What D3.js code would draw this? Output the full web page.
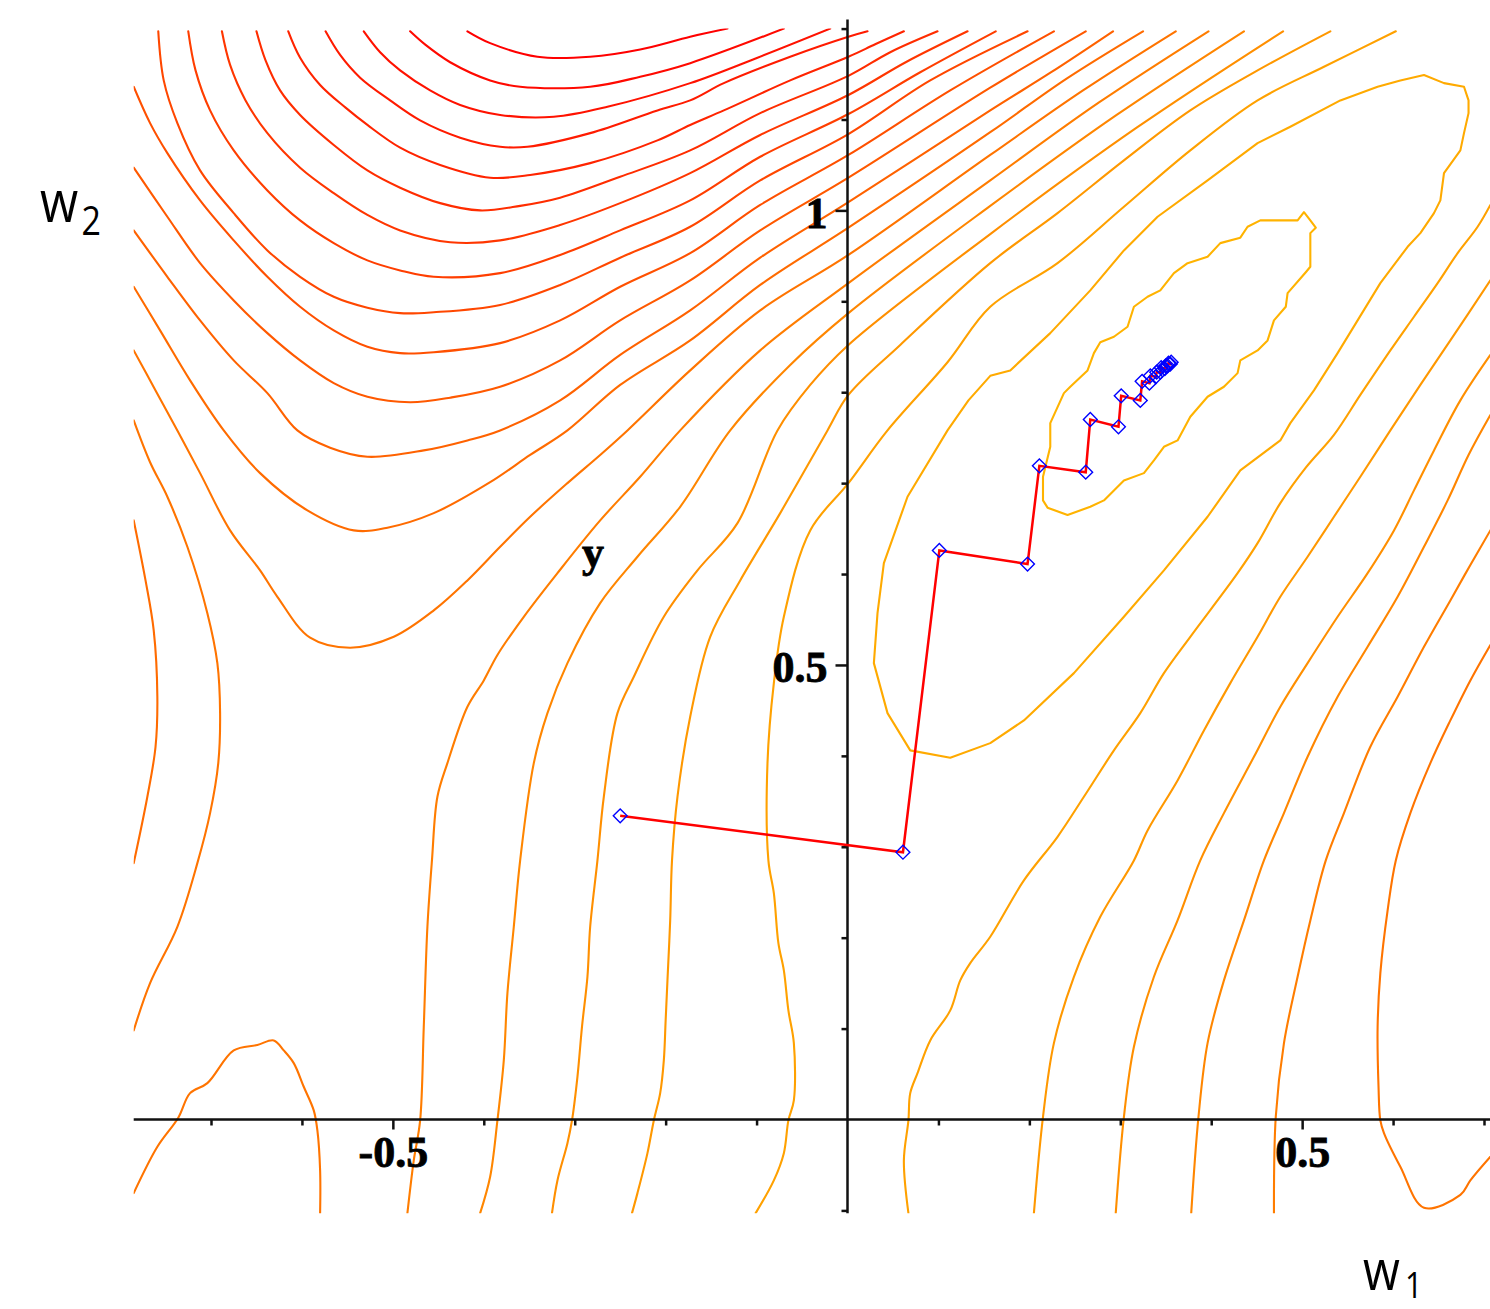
<!DOCTYPE html>
<html lang="en">
<head>
<meta charset="UTF-8">
<title>Error surface w1 / w2</title>
<style>
  body { margin: 0; background: #fff; }
  .contour { fill: none; stroke-width: 2.1px; stroke-linejoin: round; stroke-linecap: round; }
  .tick-label { font-family: "Liberation Serif", "DejaVu Serif", serif; font-weight: bold; font-size: 44px; fill: #000; stroke: #000; stroke-width: 0.8px; }
  .axis-name { font-family: "Open Sans", "Noto Sans", sans-serif; fill: #000; }
</style>
</head>
<body>
<script src="https://d3js.org/d3.v7.min.js"></script>
<script>
// contour lines, in (w1, w2) units
const westArcs = [
  [[-0.785,0.659],[-0.772,0.593],[-0.763,0.538],[-0.759,0.465],[-0.761,0.410],[-0.770,0.355],[-0.785,0.282]],
  [[-0.785,0.769],[-0.767,0.723],[-0.748,0.685],[-0.726,0.630],[-0.704,0.557],[-0.693,0.502],[-0.690,0.447],[-0.692,0.392],[-0.701,0.337],[-0.715,0.282],[-0.737,0.212],[-0.767,0.150],[-0.785,0.098]]
];
const westLevels = [8, 7];

const valleyArcs = [
  [[-0.785,0.846],[-0.761,0.802],[-0.737,0.758],[-0.712,0.711],[-0.679,0.648],[-0.646,0.604],[-0.627,0.575],[-0.591,0.530],[-0.547,0.519],[-0.499,0.531],[-0.455,0.560],[-0.418,0.593],[-0.382,0.630],[-0.349,0.663],[-0.308,0.700],[-0.272,0.731],[-0.242,0.758],[-0.173,0.824],[-0.096,0.890],[0.001,0.951],[0.157,1.061],[0.259,1.132],[0.361,1.197]],
  [[-0.785,0.916],[-0.756,0.868],[-0.723,0.813],[-0.686,0.758],[-0.646,0.711],[-0.594,0.670],[-0.543,0.648],[-0.506,0.651],[-0.455,0.667],[-0.393,0.701],[-0.349,0.731],[-0.308,0.758],[-0.250,0.808],[-0.173,0.857],[-0.096,0.918],[0.001,0.981],[0.157,1.086],[0.241,1.145],[0.325,1.197]],
  [[-0.785,0.978],[-0.748,0.927],[-0.712,0.879],[-0.675,0.835],[-0.638,0.799],[-0.605,0.758],[-0.569,0.739],[-0.528,0.729],[-0.466,0.736],[-0.418,0.747],[-0.382,0.758],[-0.316,0.791],[-0.250,0.841],[-0.173,0.890],[-0.096,0.948],[0.001,1.009],[0.157,1.110],[0.224,1.152],[0.292,1.197]],
  [[-0.785,1.047],[-0.748,0.993],[-0.712,0.942],[-0.675,0.901],[-0.638,0.865],[-0.602,0.835],[-0.565,0.810],[-0.528,0.795],[-0.481,0.789],[-0.437,0.794],[-0.382,0.806],[-0.316,0.835],[-0.250,0.879],[-0.173,0.923],[-0.096,0.978],[0.001,1.036],[0.157,1.135],[0.262,1.197]],
  [[-0.785,1.136],[-0.767,1.096],[-0.748,1.063],[-0.712,1.011],[-0.675,0.967],[-0.638,0.927],[-0.602,0.894],[-0.565,0.868],[-0.528,0.850],[-0.492,0.843],[-0.455,0.844],[-0.382,0.854],[-0.316,0.879],[-0.250,0.916],[-0.173,0.953],[-0.096,1.006],[0.001,1.061],[0.113,1.132],[0.227,1.197]],
  [[-0.758,1.197],[-0.752,1.143],[-0.737,1.096],[-0.712,1.044],[-0.675,0.997],[-0.638,0.956],[-0.602,0.927],[-0.565,0.905],[-0.528,0.893],[-0.492,0.887],[-0.455,0.888],[-0.382,0.896],[-0.316,0.918],[-0.250,0.948],[-0.173,0.982],[-0.096,1.033],[0.001,1.084],[0.091,1.143],[0.198,1.197]],
  [[-0.725,1.197],[-0.717,1.154],[-0.701,1.110],[-0.675,1.066],[-0.638,1.022],[-0.602,0.989],[-0.565,0.964],[-0.528,0.945],[-0.492,0.934],[-0.455,0.927],[-0.382,0.931],[-0.316,0.951],[-0.250,0.978],[-0.173,1.011],[-0.096,1.059],[0.001,1.106],[0.080,1.152],[0.163,1.197]],
  [[-0.688,1.197],[-0.679,1.160],[-0.662,1.121],[-0.638,1.085],[-0.602,1.047],[-0.565,1.019],[-0.528,0.995],[-0.492,0.978],[-0.437,0.965],[-0.382,0.967],[-0.316,0.984],[-0.250,1.008],[-0.173,1.041],[-0.096,1.083],[0.001,1.127],[0.064,1.163],[0.132,1.197]],
  [[-0.650,1.197],[-0.640,1.165],[-0.624,1.132],[-0.602,1.105],[-0.565,1.072],[-0.528,1.044],[-0.492,1.025],[-0.448,1.008],[-0.404,1.000],[-0.360,1.005],[-0.316,1.014],[-0.250,1.037],[-0.173,1.066],[-0.096,1.107],[0.001,1.148],[0.047,1.174],[0.099,1.197]],
  [[-0.615,1.197],[-0.602,1.168],[-0.580,1.138],[-0.552,1.113],[-0.528,1.094],[-0.492,1.069],[-0.448,1.050],[-0.393,1.036],[-0.349,1.039],[-0.283,1.052],[-0.209,1.077],[-0.173,1.094],[-0.136,1.110],[-0.063,1.143],[0.001,1.169],[0.031,1.183],[0.062,1.197]],
  [[-0.574,1.197],[-0.558,1.171],[-0.536,1.146],[-0.503,1.121],[-0.470,1.099],[-0.426,1.080],[-0.382,1.070],[-0.352,1.070],[-0.283,1.085],[-0.209,1.110],[-0.173,1.121],[-0.136,1.140],[-0.063,1.169],[0.001,1.191],[0.022,1.197]],
  [[-0.532,1.197],[-0.514,1.174],[-0.492,1.154],[-0.459,1.132],[-0.426,1.116],[-0.382,1.105],[-0.323,1.103],[-0.264,1.114],[-0.173,1.140],[-0.099,1.168],[-0.019,1.200]],
  [[-0.481,1.197],[-0.464,1.182],[-0.437,1.163],[-0.393,1.143],[-0.360,1.136],[-0.283,1.136],[-0.228,1.147],[-0.173,1.162],[-0.070,1.200]],
  [[-0.418,1.197],[-0.393,1.184],[-0.341,1.169],[-0.283,1.169],[-0.228,1.177],[-0.173,1.191],[-0.132,1.200]]
];
const valleyLevels = [7, 8, 9, 10, 11, 12, 13, 14, 15, 16, 17, 18, 19, 20];

const risingLines = [
  [[-0.785,-0.081],[-0.759,-0.030],[-0.736,0.002],[-0.723,0.029],[-0.704,0.040],[-0.675,0.076],[-0.649,0.082],[-0.631,0.087],[-0.620,0.076],[-0.609,0.062],[-0.598,0.036],[-0.587,0.010],[-0.583,-0.012],[-0.580,-0.056],[-0.580,-0.103]],
  [[-0.484,-0.103],[-0.477,-0.045],[-0.470,-0.001],[-0.466,0.102],[-0.462,0.212],[-0.457,0.285],[-0.451,0.355],[-0.440,0.392],[-0.418,0.454],[-0.400,0.483],[-0.385,0.511],[-0.356,0.553],[-0.319,0.601],[-0.272,0.659],[-0.228,0.707],[-0.184,0.758],[-0.096,0.846],[0.001,0.920],[0.157,1.033],[0.277,1.119],[0.397,1.197]],
  [[-0.404,-0.103],[-0.393,-0.063],[-0.385,-0.001],[-0.378,0.065],[-0.374,0.139],[-0.367,0.212],[-0.360,0.285],[-0.345,0.392],[-0.330,0.447],[-0.308,0.502],[-0.272,0.568],[-0.231,0.619],[-0.184,0.674],[-0.129,0.758],[-0.063,0.830],[0.001,0.887],[0.157,1.005],[0.296,1.105],[0.436,1.197]],
  [[-0.325,-0.103],[-0.319,-0.067],[-0.308,-0.026],[-0.303,-0.001],[-0.297,0.047],[-0.292,0.102],[-0.286,0.157],[-0.283,0.212],[-0.275,0.285],[-0.268,0.355],[-0.253,0.447],[-0.235,0.487],[-0.202,0.553],[-0.165,0.604],[-0.121,0.656],[-0.077,0.758],[-0.041,0.808],[0.001,0.852],[0.157,0.974],[0.318,1.091],[0.479,1.197]],
  [[-0.237,-0.103],[-0.231,-0.081],[-0.220,-0.037],[-0.213,-0.001],[-0.206,0.029],[-0.202,0.065],[-0.200,0.109],[-0.198,0.153],[-0.195,0.219],[-0.193,0.285],[-0.187,0.355],[-0.173,0.443],[-0.151,0.531],[-0.118,0.593],[-0.074,0.667],[-0.022,0.758],[0.001,0.797],[0.058,0.852],[0.157,0.942],[0.231,0.997],[0.304,1.055],[0.377,1.110],[0.451,1.154],[0.531,1.197]],
  [[-0.101,-0.103],[-0.081,-0.067],[-0.070,-0.037],[-0.065,-0.001],[-0.059,0.021],[-0.059,0.084],[-0.065,0.120],[-0.070,0.164],[-0.076,0.194],[-0.081,0.249],[-0.087,0.285],[-0.088,0.392],[-0.081,0.480],[-0.070,0.553],[-0.041,0.648],[0.001,0.700],[0.044,0.758],[0.110,0.833],[0.157,0.894],[0.231,0.942],[0.304,1.004],[0.377,1.066],[0.451,1.121],[0.524,1.158],[0.603,1.197]]
];
const risingLevels = [7, 6, 5, 4, 3, 2];

const eastLines = [
  [[0.067,-0.103],[0.062,-0.045],[0.067,-0.001],[0.069,0.029],[0.077,0.051],[0.091,0.087],[0.113,0.120],[0.124,0.153],[0.135,0.172],[0.157,0.201],[0.194,0.263],[0.231,0.311],[0.260,0.355],[0.293,0.406],[0.322,0.447],[0.348,0.491],[0.377,0.531],[0.429,0.601],[0.451,0.634],[0.476,0.678],[0.504,0.717],[0.535,0.753],[0.564,0.797],[0.597,0.846],[0.623,0.883],[0.649,0.920],[0.671,0.953],[0.693,0.982],[0.707,1.006]],
  [[0.205,-0.103],[0.215,0.003],[0.227,0.084],[0.249,0.157],[0.278,0.223],[0.315,0.285],[0.330,0.318],[0.363,0.373],[0.392,0.428],[0.421,0.480],[0.451,0.531],[0.476,0.575],[0.506,0.619],[0.535,0.663],[0.564,0.707],[0.597,0.758],[0.630,0.808],[0.663,0.857],[0.707,0.923]],
  [[0.295,-0.103],[0.304,0.003],[0.315,0.080],[0.337,0.157],[0.363,0.219],[0.388,0.285],[0.414,0.337],[0.447,0.399],[0.476,0.454],[0.506,0.502],[0.539,0.553],[0.572,0.601],[0.601,0.648],[0.623,0.692],[0.645,0.736],[0.674,0.791],[0.707,0.841]],
  [[0.378,-0.103],[0.386,0.003],[0.396,0.084],[0.414,0.153],[0.436,0.219],[0.458,0.285],[0.480,0.337],[0.506,0.399],[0.539,0.465],[0.572,0.520],[0.605,0.575],[0.634,0.630],[0.660,0.681],[0.683,0.731],[0.707,0.775]],
  [[0.469,-0.103],[0.471,0.003],[0.480,0.084],[0.495,0.157],[0.509,0.219],[0.526,0.285],[0.546,0.337],[0.575,0.410],[0.605,0.465],[0.634,0.520],[0.663,0.571],[0.685,0.610],[0.707,0.648]],
  [[0.707,-0.041],[0.685,-0.067],[0.674,-0.083],[0.634,-0.097],[0.608,-0.052],[0.590,-0.015],[0.586,-0.001],[0.584,0.036],[0.583,0.102],[0.586,0.161],[0.594,0.230],[0.603,0.285],[0.619,0.337],[0.641,0.392],[0.663,0.439],[0.685,0.483],[0.707,0.522]]
];
const eastLevels = [2, 3, 4, 5, 6, 7];

const basinLoops = [
  [[0.502,0.998],[0.509,0.989],[0.515,0.981],[0.509,0.975],[0.509,0.938],[0.504,0.932],[0.484,0.909],[0.482,0.894],[0.469,0.879],[0.462,0.857],[0.451,0.846],[0.432,0.835],[0.429,0.821],[0.414,0.806],[0.396,0.795],[0.377,0.773],[0.363,0.747],[0.348,0.740],[0.337,0.725],[0.326,0.711],[0.304,0.703],[0.293,0.692],[0.282,0.681],[0.267,0.674],[0.242,0.665],[0.220,0.673],[0.215,0.681],[0.215,0.707],[0.223,0.740],[0.223,0.766],[0.238,0.799],[0.245,0.806],[0.264,0.824],[0.271,0.843],[0.278,0.855],[0.293,0.861],[0.308,0.872],[0.315,0.894],[0.330,0.905],[0.344,0.912],[0.359,0.931],[0.374,0.942],[0.396,0.949],[0.410,0.964],[0.432,0.970],[0.440,0.982],[0.454,0.989],[0.495,0.989]],
  [[0.110,0.758],[0.133,0.791],[0.157,0.818],[0.179,0.824],[0.223,0.865],[0.267,0.912],[0.304,0.956],[0.341,0.993],[0.396,1.033],[0.451,1.074],[0.487,1.092],[0.542,1.121],[0.583,1.136],[0.608,1.143],[0.634,1.149],[0.656,1.140],[0.678,1.136],[0.683,1.121],[0.683,1.107],[0.678,1.085],[0.674,1.066],[0.656,1.041],[0.652,1.011],[0.645,0.997],[0.630,0.975],[0.616,0.960],[0.586,0.920],[0.561,0.879],[0.539,0.843],[0.513,0.802],[0.487,0.766],[0.476,0.747],[0.432,0.714],[0.396,0.663],[0.348,0.604],[0.304,0.553],[0.249,0.491],[0.194,0.439],[0.157,0.414],[0.113,0.398],[0.069,0.406],[0.044,0.447],[0.029,0.502],[0.033,0.557],[0.040,0.612],[0.066,0.685]]
];
const basinLevels = [0, 1];

// gradient descent steps
const descentW1 = [-0.250, 0.061, 0.101, 0.198, 0.211, 0.262, 0.267, 0.298, 0.301, 0.322, 0.324, 0.332, 0.333, 0.339, 0.340, 0.344, 0.345, 0.349, 0.350, 0.352, 0.353, 0.355, 0.356];
const descentW2 = [0.334, 0.294, 0.626, 0.611, 0.719, 0.712, 0.770, 0.762, 0.796, 0.791, 0.812, 0.810, 0.818, 0.817, 0.822, 0.822, 0.827, 0.826, 0.829, 0.829, 0.832, 0.831, 0.833];

const xMinorTicks = [-0.7, -0.6, -0.4, -0.3, -0.2, -0.1, 0.1, 0.2, 0.3, 0.4, 0.6, 0.7];
const xMajorTicks = [-0.5, 0.5];
const yMinorTicks = [-0.1, 0.1, 0.2, 0.3, 0.4, 0.6, 0.7, 0.8, 0.9, 1.1, 1.2];
const yMajorTicks = [0.5, 1];

const width = 1490;
const height = 1309;

const x = d3.scaleLinear().domain([-0.7, 0.7]).range([211, 1484]);
const y = d3.scaleLinear().domain([0, 1]).range([1119.5, 210.4]);

const svg = d3.select("body").append("svg")
    .attr("width", width)
    .attr("height", height);

svg.append("defs").append("clipPath")
    .attr("id", "plot")
    .append("rect")
    .attr("x", x(-0.785))
    .attr("y", y(1.2))
    .attr("width", x(0.707) - x(-0.785))
    .attr("height", y(-0.103) - y(1.2));

// hue goes from orange-yellow (lowest level) to red
const levelColor = k => d3.hsl(42 - 2.1 * k, 1, 0.5).toString();

const openLine = d3.line()
    .x(d => x(d[0]))
    .y(d => y(d[1]))
    .curve(d3.curveCatmullRom.alpha(0.5));

const closedLine = d3.line()
    .x(d => x(d[0]))
    .y(d => y(d[1]))
    .curve(d3.curveLinearClosed);

const contours = svg.append("g").attr("clip-path", "url(#plot)");

function drawFamily(lines, levels, gen) {
    contours.append("g")
        .selectAll("path")
        .data(lines)
        .join("path")
        .attr("class", "contour")
        .attr("d", gen)
        .attr("stroke", (d, i) => levelColor(levels[i]));
}

drawFamily(westArcs, westLevels, openLine);
drawFamily(valleyArcs, valleyLevels, openLine);
drawFamily(risingLines, risingLevels, openLine);
drawFamily(eastLines, eastLevels, openLine);
drawFamily(basinLoops, basinLevels, closedLine);

// axes
svg.append("line")
    .attr("x1", x(-0.785)).attr("x2", x(0.707))
    .attr("y1", y(0)).attr("y2", y(0))
    .attr("stroke", "#111").attr("stroke-width", 2.5);

svg.append("line")
    .attr("x1", x(0)).attr("x2", x(0))
    .attr("y1", y(1.21)).attr("y2", y(-0.103))
    .attr("stroke", "#111").attr("stroke-width", 2.5);

function styleTicks(g) {
    g.select(".domain").remove();
    g.selectAll(".tick line").attr("stroke", "#111").attr("stroke-width", 2.5);
}

svg.append("g")
    .attr("transform", `translate(0,${y(0)})`)
    .call(d3.axisBottom(x).tickValues(xMinorTicks).tickSize(6).tickFormat(""))
    .call(styleTicks);

svg.append("g")
    .attr("transform", `translate(0,${y(0)})`)
    .call(d3.axisBottom(x).tickValues(xMajorTicks).tickSize(10).tickFormat(d => String(d)))
    .call(styleTicks)
    .call(g => g.selectAll(".tick text")
        .attr("class", "tick-label")
        .attr("y", 47)
        .attr("dy", null));

svg.append("g")
    .attr("transform", `translate(${x(0)},0)`)
    .call(d3.axisLeft(y).tickValues(yMinorTicks).tickSize(6).tickFormat(""))
    .call(styleTicks);

svg.append("g")
    .attr("transform", `translate(${x(0)},0)`)
    .call(d3.axisLeft(y).tickValues(yMajorTicks).tickSize(12).tickFormat(d => String(d)))
    .call(styleTicks)
    .call(g => g.selectAll(".tick text")
        .attr("class", "tick-label")
        .attr("x", -20)
        .attr("dy", null)
        .attr("y", 17)
        .attr("text-anchor", "end"));

// descent path
const descent = descentW1.map((w, i) => [w, descentW2[i]]);

svg.append("path")
    .datum(descent)
    .attr("d", d3.line().x(d => x(d[0])).y(d => y(d[1])))
    .attr("fill", "none")
    .attr("stroke", "#ff0000")
    .attr("stroke-width", 2.5);

svg.append("g")
    .selectAll("path")
    .data(descent)
    .join("path")
    .attr("d", d3.symbol(d3.symbolSquare, 95))
    .attr("transform", d => `translate(${x(d[0])},${y(d[1])}) rotate(45)`)
    .attr("fill", "none")
    .attr("stroke", "#0000ff")
    .attr("stroke-width", 1.4);

// labels
svg.append("text")
    .attr("class", "tick-label")
    .attr("x", x(-0.28))
    .attr("y", y(0.608))
    .attr("text-anchor", "middle")
    .text("y");

const w2Label = svg.append("text")
    .attr("class", "axis-name")
    .attr("transform", "translate(40,222) scale(0.85,1)");
w2Label.append("tspan").attr("font-size", 58).text("w");
w2Label.append("tspan").attr("font-size", 40).attr("dx", 4).attr("dy", 13).text("2");

const w1Label = svg.append("text")
    .attr("class", "axis-name")
    .attr("transform", "translate(1363,1290) scale(0.85,1)");
w1Label.append("tspan").attr("font-size", 56).text("w");
w1Label.append("tspan").attr("font-size", 36).attr("dx", 6).attr("dy", 8).text("1");
</script>
</body>
</html>
